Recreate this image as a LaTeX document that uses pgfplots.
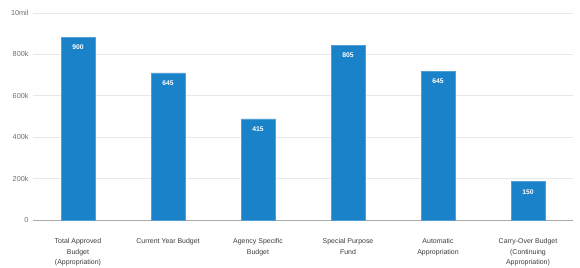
\documentclass[border=0pt]{standalone}
\usepackage{pgfplots}
\pgfplotsset{compat=1.18}
\usepackage{fontspec}
\setmainfont{Liberation Sans}
\definecolor{barblue}{RGB}{26,130,200}
\definecolor{baredge}{RGB}{80,160,215}
\definecolor{gridgray}{RGB}{232,232,232}
\definecolor{axisgray}{RGB}{170,170,170}
\definecolor{ylab}{RGB}{110,110,110}
\definecolor{xlab}{RGB}{60,60,60}
\begin{document}
\begin{tikzpicture}
\useasboundingbox (-33bp,-48bp) rectangle (547bp,220bp);
\begin{axis}[
  at={(0,0)}, anchor=south west,
  scale only axis,
  width=540bp, height=207bp,
  xmin=-0.5, xmax=5.5,
  ymin=0, ymax=1000000,
  axis line style={draw=none},
  ymajorgrids, grid style={gridgray, line width=0.6bp},
  ytick={0,200000,400000,600000,800000,1000000},
  yticklabels={0,200k,400k,600k,800k,10mil},
  scaled y ticks=false,
  xtick={0,1,2,3,4,5},
  xticklabels={{Total Approved\\Budget\\(Appropriation)},{Current Year Budget},{Agency Specific\\Budget},{Special Purpose\\Fund},{Automatic\\Appropriation},{Carry-Over Budget\\(Continuing\\Appropriation)}},
  xticklabel style={align=center, font=\fontsize{7}{10.5}\selectfont, text=xlab, yshift=-15bp},
  yticklabel style={font=\fontsize{7.3}{8}\selectfont, text=ylab, xshift=-1bp},
  major tick length=0pt,
  /pgf/number format/assume math mode=true,
  ybar, bar width=33.5bp,
  point meta=explicit symbolic,
  nodes near coords,
  every node near coord/.append style={anchor=north, yshift=-4bp, text=white, font=\fontsize{6.8}{8}\selectfont\bfseries},
  clip=false,
]
\draw[axisgray, line width=0.8bp] (axis cs:-0.5,0) -- (axis cs:5.5,0);
\addplot[fill=barblue, draw=baredge, line width=0.5bp] coordinates {
  (0,884000) [900]
  (1,711000) [645]
  (2,488000) [415]
  (3,845000) [805]
  (4,718000) [645]
  (5,185000) [150]
};
\end{axis}
\end{tikzpicture}
\end{document}
